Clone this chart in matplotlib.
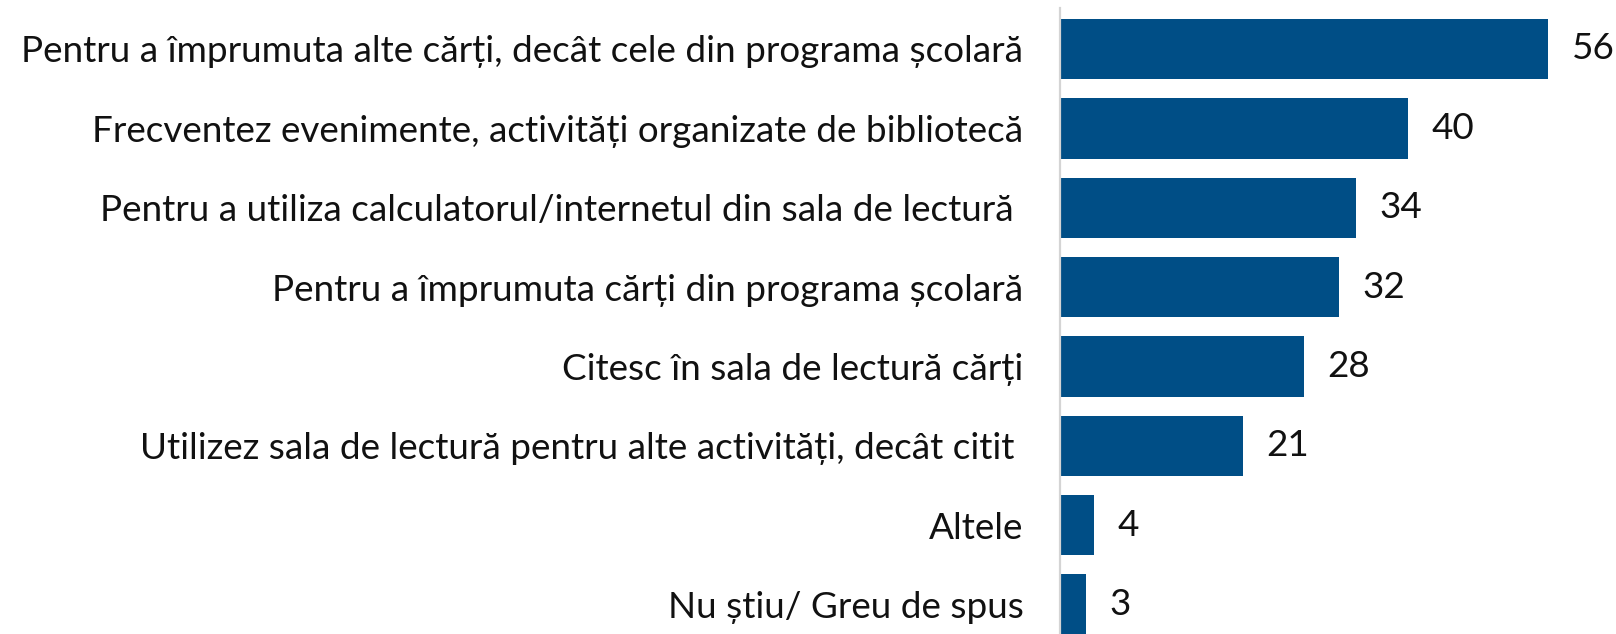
import matplotlib.pyplot as plt

plt.rcParams['font.family'] = ['Lato', 'DejaVu Sans']

motive = [
    "Pentru a împrumuta alte cărți, decât cele din programa școlară",
    "Frecventez evenimente, activități organizate de bibliotecă",
    "Pentru a utiliza calculatorul/internetul din sala de lectură ",
    "Pentru a împrumuta cărți din programa școlară",
    "Citesc în sala de lectură cărți",
    "Utilizez sala de lectură pentru alte activități, decât citit ",
    "Altele",
    "Nu știu/ Greu de spus",
]
procente = [56, 40, 34, 32, 28, 21, 4, 3]

W, H = 1616, 634
fig = plt.figure(figsize=(W / 100, H / 100), dpi=100)
# axes start at the vertical rule and run to the right/bottom edge
ax = fig.add_axes([1059.5 / W, 0, 1 - 1059.5 / W, 1 - 8 / H])

poz = list(range(len(motive)))
bare = ax.barh(poz, procente, height=0.76, color='#004E86')
ax.set_ylim(7.37, -0.516)
ax.set_xlim(0, 63.8)

ax.bar_label(bare, labels=[str(v) for v in procente], padding=17,
             fontsize=26.6, color='#111111')

ax.set_yticks(poz)
ax.set_yticklabels(motive, fontsize=26.6, color='#111111')
ax.tick_params(axis='y', length=0, pad=26)
ax.set_xticks([])

for s in ['top', 'right', 'bottom']:
    ax.spines[s].set_visible(False)
ax.spines['left'].set_color('#d4d4d4')
ax.spines['left'].set_linewidth(1.6)

fig.savefig('out.png', dpi=100)
